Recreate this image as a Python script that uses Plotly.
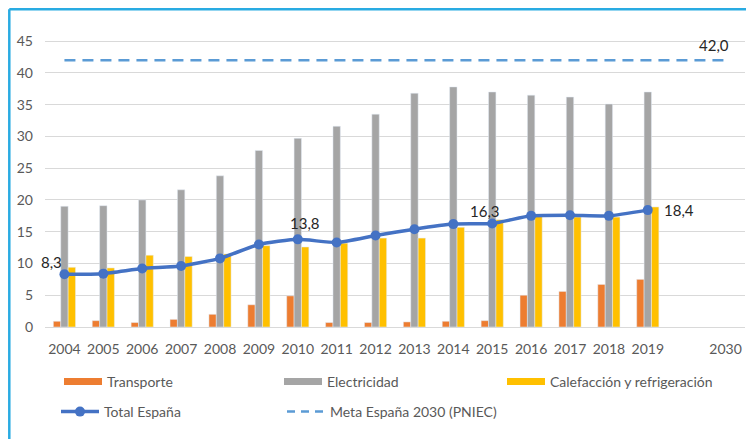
import plotly.graph_objects as go

# ---- data ----
years = ["2004", "2005", "2006", "2007", "2008", "2009", "2010", "2011",
         "2012", "2013", "2014", "2015", "2016", "2017", "2018", "2019"]
target_year = "2030"
transporte = [0.9, 1.0, 0.7, 1.2, 2.0, 3.5, 4.9, 0.7, 0.7, 0.8, 0.9, 1.0, 5.0, 5.6, 6.7, 7.5]
electricidad = [19.0, 19.1, 20.0, 21.6, 23.8, 27.8, 29.7, 31.6, 33.5, 36.8, 37.8, 37.0, 36.5, 36.2, 35.1, 37.0]
calefaccion = [9.4, 9.3, 11.3, 11.1, 11.5, 12.8, 12.6, 13.2, 14.0, 14.0, 15.7, 16.9, 17.6, 17.3, 17.3, 18.9]
total = [8.3, 8.4, 9.2, 9.6, 10.8, 13.0, 13.8, 13.3, 14.4, 15.4, 16.2, 16.3, 17.5, 17.6, 17.5, 18.4]
meta = 42.0
labelled_years = ["2004", "2010", "2015", "2019"]
y_ticks = [0, 5, 10, 15, 20, 25, 30, 35, 40, 45]

# positions on the category axis (one empty slot before 2030)
pos = list(range(len(years)))
pos_target = len(years) + 1
tick_pos = pos + [pos_target]
tick_text = years + [target_year]

C_T = "#ED7D31"
C_E = "#A5A5A5"
C_C = "#FFC000"
C_TOT = "#4472C4"
C_META = "#5B9BD5"
FONT = "Lato"

fig = go.Figure()
fig.add_trace(go.Bar(x=pos, y=transporte, marker_color=C_T, name="Transporte", showlegend=False))
fig.add_trace(go.Bar(x=pos, y=electricidad, marker_color=C_E, name="Electricidad", showlegend=False))
fig.add_trace(go.Bar(x=pos, y=calefaccion, marker_color=C_C, name="Calefacción y refrigeración", showlegend=False))
fig.add_trace(go.Scatter(x=tick_pos, y=[meta] * len(tick_pos), mode="lines",
                         line=dict(color=C_META, width=2.5, dash="11px,7px"),
                         showlegend=False))
fig.add_trace(go.Scatter(x=pos, y=total, mode="lines+markers",
                         line=dict(color=C_TOT, width=3.5, shape="spline", smoothing=0.5),
                         marker=dict(size=10, color=C_TOT), showlegend=False))

# page coordinates (the page body adds an 8px offset; plot area spans x 45-745, y 31-327 on screen)
def px_x(p):
    return (p - 45) / 700.0

def px_y(p):
    return (327 - p) / 296.0

ITEMW = 38
legend_items = [
    ("Transporte", dict(color=C_T, width=7), None, "legend", 107, 382),
    ("Electricidad", dict(color=C_E, width=7), None, "legend2", 327, 382),
    ("Calefacción y refrigeración", dict(color=C_C, width=7), None, "legend3", 550, 382),
    ("Total España", dict(color=C_TOT, width=3.5), dict(size=10, color=C_TOT), "legend4", 104, 412),
    ("Meta España 2030 (PNIEC)", dict(color=C_META, width=2.5, dash="8px,6px"), None, "legend5", 330, 412),
]
layout_legends = {}
for name, line, marker, lg, tx, ly in legend_items:
    fig.add_trace(go.Scatter(x=[None], y=[None], mode="lines+markers" if marker else "lines",
                             line=line, marker=marker, name=name, legend=lg))
    layout_legends[lg] = dict(x=px_x(tx - ITEMW - 10), y=px_y(ly), xanchor="left", yanchor="middle",
                              bgcolor="rgba(0,0,0,0)", font=dict(family=FONT, size=14, color="#595959"),
                              itemwidth=ITEMW)

annotations = []
shifts = {"2004": (-13, 12), "2010": (7, 16), "2015": (-7, 12)}
for yr in labelled_years:
    i = years.index(yr)
    txt = f"{total[i]:.1f}".replace(".", ",")
    if yr == "2019":
        sx, sy, xa = 14, 0, "left"
    else:
        sx, sy = shifts[yr]
        xa = "center"
    annotations.append(dict(x=pos[i], y=total[i], text=txt, showarrow=False,
                            xshift=sx, yshift=sy, xanchor=xa, yanchor="middle",
                            font=dict(family=FONT, size=15, color="#262626")))
annotations.append(dict(x=pos_target, y=meta, text=f"{meta:.1f}".replace(".", ","), showarrow=False,
                        xshift=-12, yshift=15, xanchor="center", yanchor="middle",
                        font=dict(family=FONT, size=15, color="#262626")))

frame_color = "#29ABE2"
shapes = [
    dict(type="line", xref="paper", yref="paper", x0=px_x(9.3), x1=px_x(9.3), y0=px_y(445), y1=px_y(9.3),
         line=dict(color=frame_color, width=2.5)),
    dict(type="line", xref="paper", yref="paper", x0=px_x(9.3), x1=px_x(760), y0=px_y(9.3), y1=px_y(9.3),
         line=dict(color=frame_color, width=2.5)),
]

fig.update_layout(
    width=746, height=431,
    margin=dict(l=37, r=9, t=23, b=112, autoexpand=False),
    paper_bgcolor="white", plot_bgcolor="white",
    barmode="group", bargap=0.43, bargroupgap=0,
    font=dict(family=FONT, size=14, color="#595959"),
    annotations=annotations, shapes=shapes,
    xaxis=dict(range=[-0.5, pos_target + 0.5], tickmode="array", tickvals=tick_pos, ticktext=tick_text,
               showgrid=False, zeroline=False, showline=False, ticks="", automargin=False,
               ticklabelstandoff=12, tickfont=dict(family=FONT, size=14, color="#595959")),
    yaxis=dict(range=[0, 46.6], tickmode="array", tickvals=y_ticks, showgrid=True, gridcolor="#D9D9D9",
               gridwidth=1, zeroline=True, zerolinecolor="#D9D9D9", zerolinewidth=1, showline=False,
               ticks="", ticklabelstandoff=11, automargin=False,
               tickfont=dict(family=FONT, size=14, color="#595959")),
    **layout_legends,
)

fig.write_html("out.html")
